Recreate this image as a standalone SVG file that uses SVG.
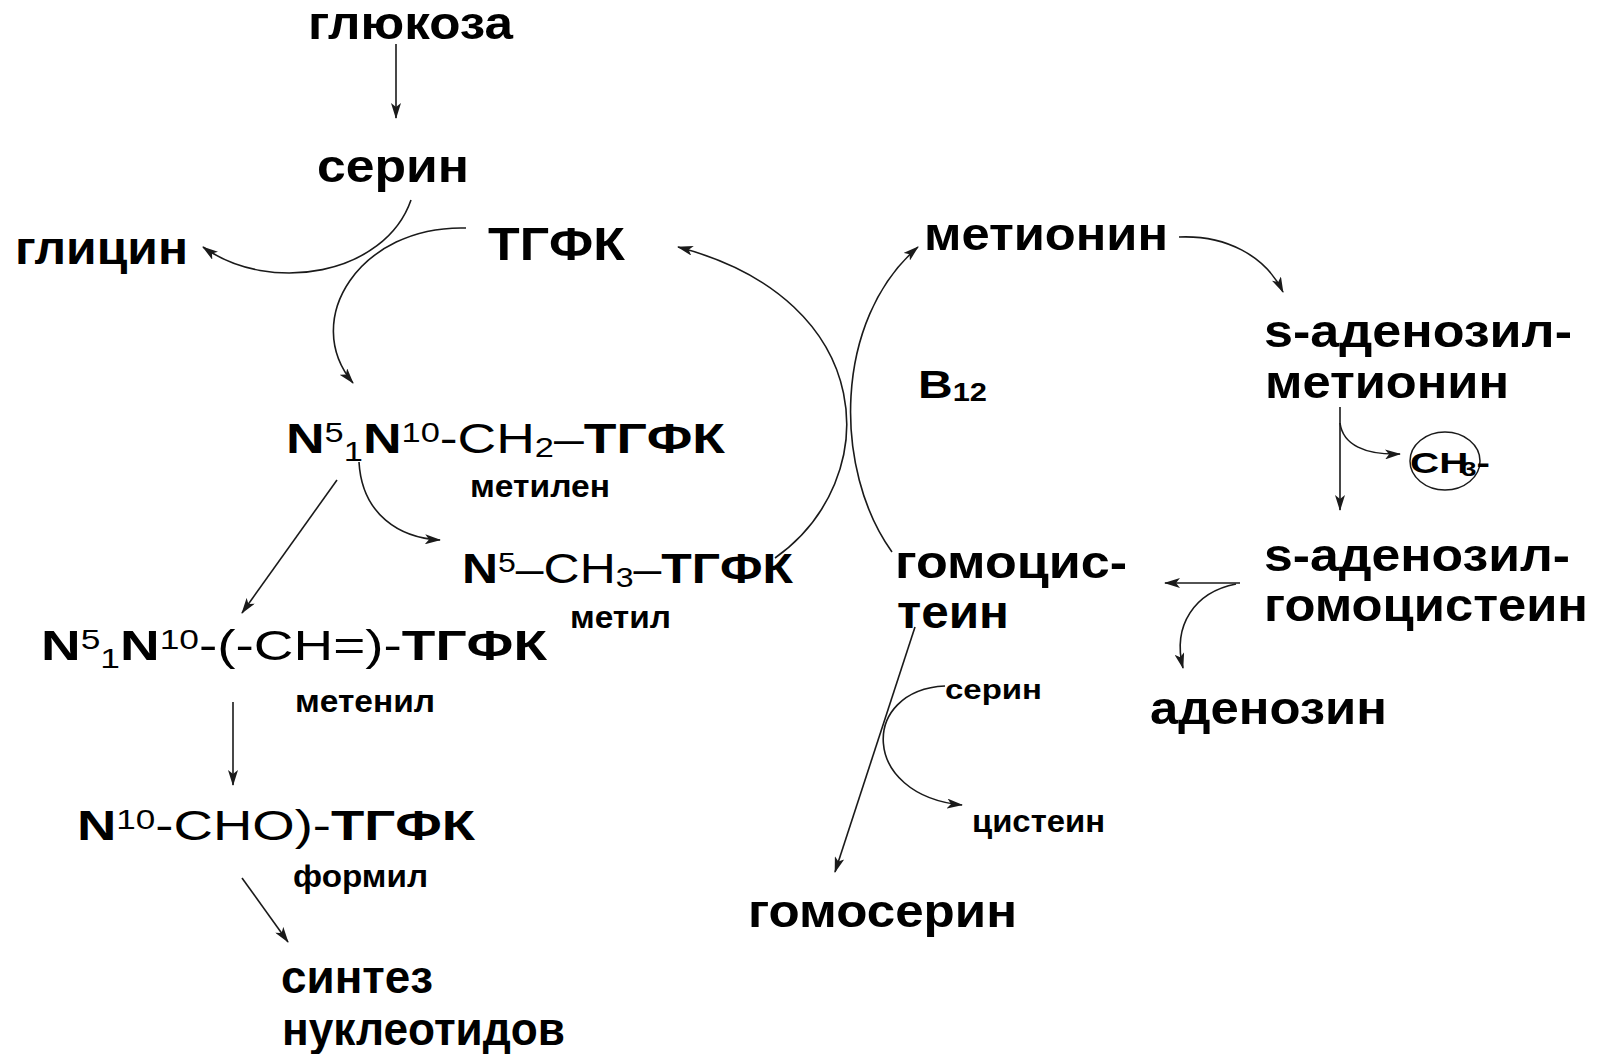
<svg xmlns="http://www.w3.org/2000/svg" width="1600" height="1054" viewBox="0 0 1600 1054">
  <style>
    text { font-family: "Liberation Sans", Arial, sans-serif; fill: #000; }
    .lbl { font-size: 46px; font-weight: bold; }
    .sm { font-size: 32px; font-weight: bold; }
    .f { font-size: 42px; font-weight: normal; }
    .b { font-weight: bold; }
    .sc { font-size: 27px; }
    .edge { fill: none; stroke: #1a1a1a; stroke-width: 1.6; marker-end: url(#arr); }
  </style>
  <defs>
    <marker id="arr" viewBox="0 0 16 10" markerWidth="16" markerHeight="10" refX="15" refY="5" markerUnits="userSpaceOnUse" orient="auto">
      <path d="M0,0 L16,5 L0,10 L4,5 z" fill="#1a1a1a"/>
    </marker>
  </defs>
  <rect width="1600" height="1054" fill="#fff"/>

  <!-- connectors -->
  <g id="connectors">
    <path class="edge" d="M396,44 L396,118"/>
    <path class="edge" d="M411,200 C385,275 270,295 203,247"/>
    <path class="edge" d="M466,228 C360,225 300,320 353,383"/>
    <path class="edge" d="M337,480 L242,613"/>
    <path class="edge" d="M359,462 C362,515 400,538 440,540"/>
    <path class="edge" d="M775,558 C885,480 880,300 678,247"/>
    <path class="edge" d="M892,552 C833,470 833,320 918,247"/>
    <path class="edge" d="M1179,237 C1225,235 1265,255 1283,292"/>
    <path class="edge" d="M1340,407 L1340,510"/>
    <path class="edge" d="M1340,423 C1343,445 1365,455 1400,454"/>
    <path class="edge" d="M1240,583 L1165,583"/>
    <path class="edge" d="M1236,584 C1195,592 1172,625 1183,668"/>
    <path class="edge" d="M915,627 L835,872"/>
    <path class="edge" d="M945,686 C860,690 860,795 962,805"/>
    <path class="edge" d="M233,702 L233,785"/>
    <path class="edge" d="M242,878 L288,942"/>
  </g>

  <!-- folate branch -->
  <g id="glucose"><text class="lbl" x="308" y="39" textLength="205" lengthAdjust="spacingAndGlyphs">глюкоза</text></g>
  <g id="serine"><text class="lbl" x="317" y="182" textLength="152" lengthAdjust="spacingAndGlyphs">серин</text></g>
  <g id="glycine"><text class="lbl" x="15" y="264" textLength="173" lengthAdjust="spacingAndGlyphs">глицин</text></g>
  <g id="thf"><text class="lbl" x="488" y="260" textLength="137" lengthAdjust="spacingAndGlyphs">ТГФК</text></g>

  <g id="methylene-thf">
    <text class="f" x="286" y="453" textLength="439" lengthAdjust="spacingAndGlyphs"><tspan class="b">N</tspan><tspan class="sc" dy="-11">5</tspan><tspan class="sc" dy="19">1</tspan><tspan class="b" dy="-8">N</tspan><tspan class="sc" dy="-11">10</tspan><tspan dy="11">-CH</tspan><tspan class="sc" dy="4">2</tspan><tspan dy="-4">–</tspan><tspan class="b">ТГФК</tspan></text>
    <text class="sm" x="470" y="497" textLength="140" lengthAdjust="spacingAndGlyphs">метилен</text>
  </g>

  <g id="methyl-thf">
    <text class="f" x="462" y="583" textLength="331" lengthAdjust="spacingAndGlyphs"><tspan class="b">N</tspan><tspan class="sc" dy="-11">5</tspan><tspan dy="11">–CH</tspan><tspan class="sc" dy="4">3</tspan><tspan dy="-4">–</tspan><tspan class="b">ТГФК</tspan></text>
    <text class="sm" x="570" y="628" textLength="101" lengthAdjust="spacingAndGlyphs">метил</text>
  </g>

  <g id="methenyl-thf">
    <text class="f" x="41" y="660" textLength="506" lengthAdjust="spacingAndGlyphs"><tspan class="b">N</tspan><tspan class="sc" dy="-11">5</tspan><tspan class="sc" dy="19">1</tspan><tspan class="b" dy="-8">N</tspan><tspan class="sc" dy="-11">10</tspan><tspan dy="11">-(-CH=)-</tspan><tspan class="b">ТГФК</tspan></text>
    <text class="sm" x="295" y="712" textLength="140" lengthAdjust="spacingAndGlyphs">метенил</text>
  </g>

  <g id="formyl-thf">
    <text class="f" x="77" y="840" textLength="398" lengthAdjust="spacingAndGlyphs"><tspan class="b">N</tspan><tspan class="sc" dy="-11">10</tspan><tspan dy="11">-CHO)-</tspan><tspan class="b">ТГФК</tspan></text>
    <text class="sm" x="293" y="887" textLength="135" lengthAdjust="spacingAndGlyphs">формил</text>
  </g>

  <g id="nucleotides">
    <text class="lbl" x="281" y="993" textLength="152" lengthAdjust="spacingAndGlyphs">синтез</text>
    <text class="lbl" x="282" y="1045" textLength="283" lengthAdjust="spacingAndGlyphs">нуклеотидов</text>
  </g>

  <!-- methionine cycle -->
  <g id="b12">
    <text x="918" y="398" font-size="39" font-weight="bold" textLength="69" lengthAdjust="spacingAndGlyphs">B<tspan font-size="25" dy="3">12</tspan></text>
  </g>
  <g id="methionine"><text class="lbl" x="924" y="250" textLength="244" lengthAdjust="spacingAndGlyphs">метионин</text></g>
  <g id="sam">
    <text class="lbl" x="1264" y="347" textLength="308" lengthAdjust="spacingAndGlyphs">s-аденозил-</text>
    <text class="lbl" x="1265" y="398" textLength="244" lengthAdjust="spacingAndGlyphs">метионин</text>
  </g>
  <g id="methyl-group">
    <ellipse cx="1445" cy="461" rx="35" ry="29" fill="none" stroke="#1a1a1a" stroke-width="1.5"/>
    <text x="1410" y="473" font-size="30" font-weight="bold" textLength="80" lengthAdjust="spacingAndGlyphs">CH<tspan font-size="20" dx="-5" dy="3">3</tspan><tspan dy="-3">-</tspan></text>
  </g>
  <g id="sah">
    <text class="lbl" x="1264" y="571" textLength="306" lengthAdjust="spacingAndGlyphs">s-аденозил-</text>
    <text class="lbl" x="1264" y="621" textLength="324" lengthAdjust="spacingAndGlyphs">гомоцистеин</text>
  </g>
  <g id="adenosine"><text class="lbl" x="1150" y="724" textLength="237" lengthAdjust="spacingAndGlyphs">аденозин</text></g>
  <g id="homocysteine">
    <text class="lbl" x="895" y="578" textLength="232" lengthAdjust="spacingAndGlyphs">гомоцис-</text>
    <text class="lbl" x="897" y="628" textLength="112" lengthAdjust="spacingAndGlyphs">теин</text>
  </g>
  <g id="serine-small"><text class="sm" x="945" y="699" textLength="97" lengthAdjust="spacingAndGlyphs" style="font-size:28px">серин</text></g>
  <g id="cysteine"><text class="sm" x="972" y="832" textLength="133" lengthAdjust="spacingAndGlyphs">цистеин</text></g>
  <g id="homoserine"><text class="lbl" x="748" y="927" textLength="269" lengthAdjust="spacingAndGlyphs">гомосерин</text></g>
</svg>
